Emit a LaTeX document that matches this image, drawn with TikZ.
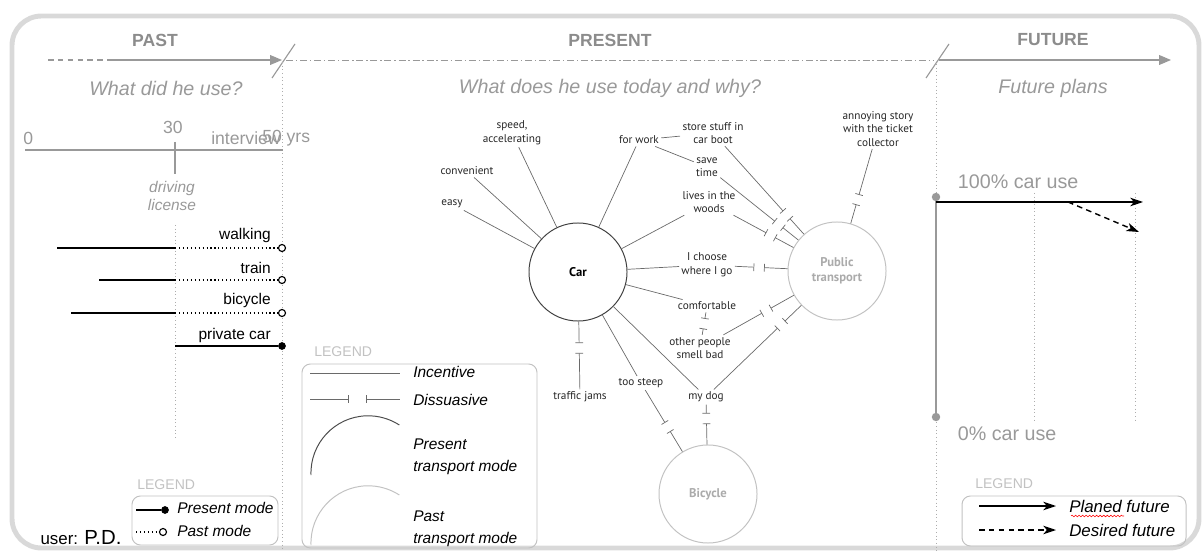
\documentclass[tikz,border=0pt]{standalone}
\usepackage{fontspec}
\setmainfont{Liberation Sans}
\newfontfamily\graphfont{PT Sans}
\usepackage{xcolor}
\usetikzlibrary{arrows.meta, calc, positioning, decorations.pathmorphing}
\definecolor{framegray}{HTML}{D9D9D9}
\definecolor{headgray}{HTML}{8C8C8C}
\definecolor{softgray}{HTML}{999999}
\definecolor{leggray}{HTML}{C2C2C2}
\definecolor{linegray}{HTML}{6A6A6A}
\definecolor{modegray}{HTML}{ABABAB}
\newcommand{\soft}[1]{\textcolor{softgray}{#1}}
\newcommand{\deter}[3]{%
  \path (#1) -- (#2) coordinate[pos=#3] (gapmid);
  \draw[deterline, -{Bar[width=5.5pt]}] (#1) -- ($(gapmid)!3.5pt!(#1)$);
  \draw[deterline, {Bar[width=5.5pt]}-] ($(gapmid)!3.5pt!(#2)$) -- (#2);
}
\tikzset{
  heading/.style={font=\fontsize{12.5}{14}\selectfont\bfseries, text=headgray},
  question/.style={font=\fontsize{14}{16}\selectfont\itshape, text=softgray},
  axislabel/.style={font=\fontsize{12.5}{14}\selectfont, text=softgray, inner sep=0pt},
  modelabel/.style={font=\fontsize{11}{13}\selectfont, anchor=east, inner sep=0pt},
  legtitle/.style={font=\fontsize{10}{12}\selectfont, text=leggray, anchor=west, inner sep=0pt},
  legtext/.style={font=\fontsize{11}{16}\selectfont\itshape, anchor=west, align=left, inner sep=0pt},
  legbox/.style={draw=leggray, rounded corners=6pt, line width=0.7pt},
  timeline/.style={draw=softgray, line width=0.8pt},
  guide/.style={draw=softgray!80, line width=0.6pt, dash pattern=on 0.6pt off 2pt},
  present/.style={line width=1pt},
  past/.style={line width=1pt, dash pattern=on 0.8pt off 2pt},
  nowdot/.style={circle, fill=black, inner sep=0pt, minimum size=5.5pt},
  thendot/.style={circle, draw=black, fill=white, inner sep=0pt, minimum size=5pt, line width=0.8pt},
  mode/.style={circle, minimum size=2.45cm, inner sep=0pt, align=center,
    font=\graphfont\fontsize{9}{11}\selectfont\bfseries},
  reason/.style={font=\graphfont\fontsize{8}{9.6}\selectfont, align=center, inner sep=1.5pt, text=black!85},
  incentive/.style={draw=linegray, line width=0.5pt},
  deterline/.style={draw=linegray, line width=0.5pt},
  plan/.style={line width=1pt, -{Stealth[length=9pt, width=6pt, inset=2.5pt]}},
  futdot/.style={circle, fill=softgray, inner sep=0pt, minimum size=6pt}
}

\begin{document}
\begin{tikzpicture}[x=0.025cm, y=-0.025cm]
    \useasboundingbox (0,0) rectangle (1204,551);
    \draw[framegray, line width=3.5pt, rounded corners=21pt] (12,16) rectangle (1199,548);

    % time axis
    \node[heading] (pasthead) at (155,40) {PAST};
    \node[heading] (presenthead) at (610,40) {PRESENT};
    \node[heading] (futurehead) at (1053,40) {FUTURE};
    \coordinate (tbegin) at (48,60);
    \coordinate (tsolid) at (107,60);
    \coordinate (tnow) at (282,60);
    \coordinate (tnowb) at (286,60);
    \coordinate (tlater) at (933,60);
    \coordinate (tlaterb) at (939,60);
    \coordinate (tend) at (1171,60);
    \draw[timeline, dash pattern=on 4pt off 3pt] (tbegin) -- (tsolid);
    \draw[timeline, -{Triangle[length=8.5pt, width=7pt]}] (tsolid) -- (tnow);
    \draw[timeline, line width=0.6pt, dash pattern=on 5pt off 2pt on 1pt off 2pt] (tnowb) -- (tlater);
    \draw[timeline, -{Triangle[length=8.5pt, width=7pt]}] (tlaterb) -- (tend);
    \draw[timeline]
    (272,78) -- (295,44)
    (926,78) -- (949,44);
    \draw[guide] (282,62) -- (282,551);
    \draw[guide] (936,64) -- (936,551);
    \node[question] (pastq) at (166,88) {What did he use?};
    \node[question] (presentq) at (610,88) {What does he use today and why?};
    \node[question] (futureq) at (1053,88) {Future plans};

    % past
    \coordinate (axstart) at (25,150);
    \coordinate (axend) at (283,150);
    \draw[timeline] (axstart) -- (axend);
    \draw[timeline] (175,142) -- (175,174);
    \node[axislabel, anchor=west] (zero) at (23,138) {0};
    \node[axislabel] (thirty) at (173,127) {30};
    \node[axislabel, anchor=west] (interview) at (211,138) {interview};
    \node[axislabel, anchor=west] (fifty) at (262,138) {50 yrs};
    \node[font=\fontsize{11}{13}\selectfont\itshape, text=softgray, align=center] (licence) at (172,196) {driving\\license};
    \draw[guide] (175,225) -- (175,440);

    \node[modelabel] (walklabel) at (271,236) {walking};
    \node[modelabel] (trainlabel) at (271,268) {train};
    \node[modelabel] (bikelabel) at (271,301) {bicycle};
    \node[modelabel] (carlabel) at (271,336) {private car};
    \coordinate (walka) at (57,248);
    \coordinate (walkb) at (175,248);
    \node[thendot] (walkc) at (282,248) {};
    \coordinate (traina) at (99,280);
    \coordinate (trainb) at (175,280);
    \node[thendot] (trainc) at (282,280) {};
    \coordinate (bikea) at (71,313);
    \coordinate (bikeb) at (175,313);
    \node[thendot] (bikec) at (282,313) {};
    \coordinate (carb) at (175,346);
    \node[nowdot] (carc) at (282,346) {};
    \draw[present]
    (walka) -- (walkb)
    (traina) -- (trainb)
    (bikea) -- (bikeb)
    (carb) -- (carc);
    \draw[past]
    (walkb) -- (walkc)
    (trainb) -- (trainc)
    (bikeb) -- (bikec);

    \node[legtitle] (pastleg) at (137,485) {LEGEND};
    \draw[legbox] (132,496) rectangle (278,545);
    \coordinate (nowa) at (136,510);
    \node[nowdot] (nowb) at (165,510) {};
    \coordinate (thena) at (136,532);
    \node[thendot] (thenb) at (163,532) {};
    \draw[present] (nowa) -- (nowb);
    \draw[past] (thena) -- (thenb);
    \node[legtext] (nowtext) at (177,508) {Present mode};
    \node[legtext] (thentext) at (177,531) {Past mode};
    \node (user) at (81,538) {\fontsize{12}{14}\selectfont user: \fontsize{14.5}{16}\selectfont P.D.};

    % present
    \node[legtitle] (graphleg) at (314,352) {LEGEND};
    \draw[legbox] (302,364) rectangle (537,548);
    \coordinate (inca) at (310,373);
    \coordinate (incb) at (400,373);
    \coordinate (disa) at (310,399);
    \coordinate (disb) at (349,399);
    \coordinate (disc) at (366,399);
    \coordinate (disd) at (400,399);
    \draw[incentive] (inca) -- (incb);
    \draw[deterline, -{Bar[width=5.5pt]}] (disa) -- (disb);
    \draw[deterline, {Bar[width=5.5pt]}-] (disc) -- (disd);
    \draw[black!70, line width=0.7pt] (311,475) arc[start angle=182, end angle=57, radius=1.43cm];
    \draw[leggray, line width=0.7pt] (311,545) arc[start angle=182, end angle=57, radius=1.43cm];
    \node[legtext] (inctext) at (413,372) {Incentive};
    \node[legtext] (distext) at (413,400) {Dissuasive};
    \node[legtext] (curtext) at (413,457) {Present\\transport mode};
    \node[legtext] (oldtext) at (413,529) {Past\\transport mode};

    \node[mode, draw=black!75, line width=0.7pt] (car) at (578,272) {Car};
    \node[mode, draw=leggray, line width=0.7pt, text=modegray] (public) at (837,271) {Public\\transport};
    \node[mode, draw=leggray, line width=0.7pt, text=modegray] (bicycle) at (708,494) {Bicycle};

    \node[reason] (speed) at (512,133) {speed,\\accelerating};
    \node[reason] (convenient) at (467,171) {convenient};
    \node[reason] (easy) at (452,204) {easy};
    \node[reason] (forwork) at (639,140) {for work};
    \node[reason] (store) at (713,133) {store stuff in\\car boot};
    \node[reason] (save) at (707,167) {save\\time};
    \node[reason] (woods) at (709,202) {lives in the\\woods};
    \node[reason] (annoying) at (878,129) {annoying story\\with the ticket\\collector};
    \node[reason] (choose) at (707,265) {I choose\\where I go};
    \node[reason] (comfort) at (707,306) {comfortable};
    \node[reason] (smell) at (700,348) {other people\\smell bad};
    \node[reason] (traffic) at (580,397) {traffic jams};
    \node[reason] (steep) at (641,383) {too steep};
    \node[reason] (dog) at (706,397) {my dog};

    \draw[incentive]
    (easy) -- (car)
    (convenient) -- (car)
    (speed) -- (car)
    (forwork) -- (car)
    (woods) -- (car)
    (choose) -- (car)
    (comfort) -- (car)
    (steep) -- (car)
    (dog) -- (car)
    (forwork) -- (store)
    (forwork) -- (save);

    \deter{store}{public}{0.78}
    \deter{save}{public}{0.75}
    \deter{woods}{public}{0.62}
    \deter{annoying}{public}{0.68}
    \deter{choose}{public}{0.46}
    \deter{comfort}{smell}{0.5}
    \deter{smell}{public}{0.61}
    \deter{dog}{public}{0.77}
    \deter{dog}{bicycle}{0.35}
    \deter{steep}{bicycle}{0.6}
    \deter{car}{traffic}{0.39}

    % future
    \draw[guide] (1034,193) -- (1034,422);
    \draw[guide] (1135,193) -- (1135,422);
    \node[futdot] (full) at (936,197) {};
    \node[futdot] (none) at (936,417) {};
    \draw[softgray, line width=1.2pt] (full) -- (none);
    \node[font=\fontsize{14}{16}\selectfont, text=softgray, anchor=west] (fulltext) at (953,182) {100\% car use};
    \node[font=\fontsize{14}{16}\selectfont, text=softgray, anchor=west] (nonetext) at (953,434) {0\% car use};
    \coordinate (plana) at (936,202);
    \coordinate (planb) at (1143,202);
    \coordinate (wisha) at (1068,202);
    \coordinate (wishb) at (1139,232);
    \draw[plan] (plana) -- (planb);
    \draw[plan, dash pattern=on 4pt off 3pt] (wisha) -- (wishb);

    \node[legtitle] (futleg) at (975,484) {LEGEND};
    \draw[legbox] (962,496) rectangle (1186,546);
    \coordinate (pla) at (979,506);
    \coordinate (plb) at (1056,506);
    \coordinate (dea) at (979,530);
    \coordinate (deb) at (1056,530);
    \draw[plan] (pla) -- (plb);
    \draw[plan, dash pattern=on 4pt off 3pt] (dea) -- (deb);
    \node[legtext, font=\fontsize{12}{14}\selectfont\itshape] (pltext) at (1069,506) {Planed future};
    \node[legtext, font=\fontsize{12}{14}\selectfont\itshape] (detext) at (1069,530) {Desired future};
    \draw[red, line width=0.4pt, decorate, decoration={snake, amplitude=0.6pt, segment length=2.5pt}] (1071,516) -- (1124,516);
\end{tikzpicture}
\end{document}
